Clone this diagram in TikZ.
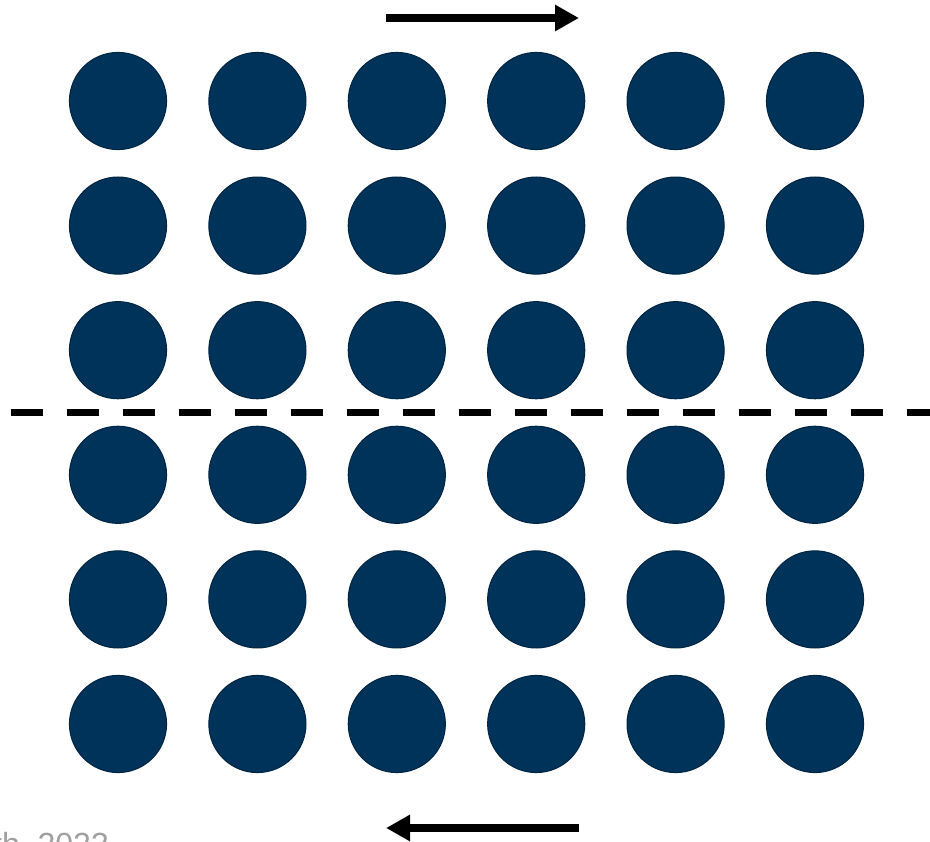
\documentclass[tikz,border=0pt]{standalone}
\usepackage{fontspec}
\setmainfont{Liberation Sans}
\usetikzlibrary{arrows.meta}
\definecolor{navy}{RGB}{0,51,89}
\definecolor{navyedge}{RGB}{0,40,70}
\definecolor{srcgrey}{RGB}{160,160,160}
\tikzset{
  atom/.style={circle, fill=navy, draw=navyedge, line width=1.2pt, minimum size=97pt, inner sep=0pt},
  shear/.style={line width=8pt, -{Triangle[length=24pt,width=25pt]}},
  plane/.style={line width=7pt, dash pattern=on 32pt off 24pt}
}
\begin{document}
\begin{tikzpicture}[x=1pt,y=-1pt]
\clip (0,0) rectangle (930,842);
\fill[white] (0,0) rectangle (930,842);
\foreach \c [count=\i] in {118,257.4,396.8,536.2,675.6,815}{
  \foreach \r [count=\j] in {101,225.6,350.2,474.8,599.4,724}{
    \node[atom] (a\i\j) at (\c,\r) {};
  }
}
\coordinate (dl) at (11,413);
\coordinate (dr) at (935,413);
\draw[plane] (dl) -- (dr);
\coordinate (t1) at (386,18);
\coordinate (t2) at (579,18);
\draw[shear] (t1) -- (t2);
\coordinate (b1) at (579,828);
\coordinate (b2) at (386,828);
\draw[shear] (b1) -- (b2);
\node[anchor=base west, inner sep=0pt, text=srcgrey, font=\fontsize{32}{38}\selectfont] (src) at (-7,855) {th, 2023};
\end{tikzpicture}
\end{document}
